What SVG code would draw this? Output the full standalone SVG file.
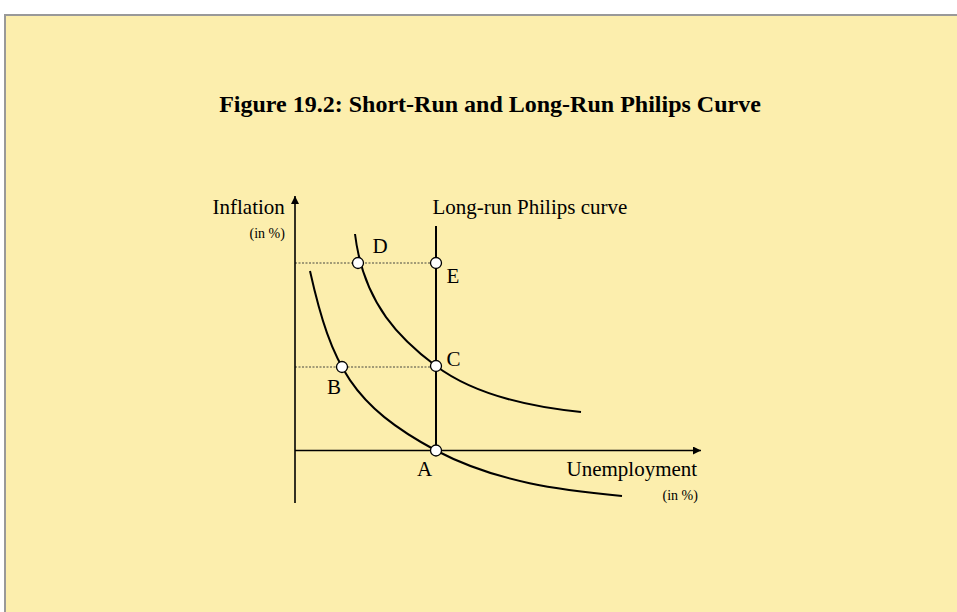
<svg xmlns="http://www.w3.org/2000/svg" width="957" height="612" viewBox="0 0 957 612">
<defs>
<style>
.t{font-family:"Liberation Serif","Times New Roman",serif;fill:#000}
.lbl{font-size:21px}
.sm{font-size:14px}
.curve{fill:none;stroke:#000;stroke-width:2}
.axis{stroke:#000;stroke-width:1.6;fill:none}
.guide{stroke:#333;stroke-width:0.9;stroke-dasharray:2,1.5;fill:none}
.pt{fill:#fff;stroke:#000;stroke-width:1.3}
</style>
<marker id="arr" viewBox="0 0 10 10" refX="10" refY="5" markerWidth="10" markerHeight="8" markerUnits="userSpaceOnUse" orient="auto">
<path d="M0,0 L10,5 L0,10 z" fill="#000"/>
</marker>
</defs>
<rect x="0" y="0" width="957" height="612" fill="#fff"/>
<rect x="5" y="15" width="960" height="610" fill="#FCEEAD" stroke="#999" stroke-width="2"/>
<text class="t" x="490" y="112" font-size="24" font-weight="bold" text-anchor="middle">Figure 19.2: Short-Run and Long-Run Philips Curve</text>
<g id="connectors">
<line class="guide" x1="295" y1="263" x2="436" y2="263"/>
<line class="guide" x1="295" y1="367" x2="436" y2="367"/>
<line id="y-axis" class="axis" x1="295" y1="503" x2="295" y2="196" marker-end="url(#arr)"/>
<line id="x-axis" class="axis" x1="295" y1="450.5" x2="701" y2="450.5" marker-end="url(#arr)"/>
<line id="lrpc" class="curve" x1="436" y1="226" x2="436" y2="450"/>
<path id="srpc1" class="curve" d="M310,271 C331.6,367.4 353,405.7 436,450.5 C497.6,482.9 562,490 622,496"/>
<path id="srpc2" class="curve" d="M355,234 C363.6,304.9 402.1,340.6 436,366 C476,396 531,407 581,412"/>
</g>
<g id="axis-labels">
<text class="t lbl" x="212.5" y="214">Inflation</text>
<text class="t sm" x="249.5" y="238">(in %)</text>
<text class="t lbl" x="566.5" y="476">Unemployment</text>
<text class="t sm" x="662.5" y="500">(in %)</text>
<text class="t lbl" x="432.5" y="214">Long-run Philips curve</text>
</g>
<g id="node-D"><circle class="pt" cx="358" cy="263" r="5.5"/><text class="t lbl" x="372.5" y="252.5">D</text></g>
<g id="node-E"><circle class="pt" cx="436" cy="263" r="5.5"/><text class="t lbl" x="446.5" y="283">E</text></g>
<g id="node-B"><circle class="pt" cx="342" cy="367" r="5.5"/><text class="t lbl" x="327" y="394">B</text></g>
<g id="node-C"><circle class="pt" cx="436" cy="366" r="5.5"/><text class="t lbl" x="446.5" y="366">C</text></g>
<g id="node-A"><circle class="pt" cx="436" cy="450.5" r="5.5"/><text class="t lbl" x="417" y="476">A</text></g>
</svg>
